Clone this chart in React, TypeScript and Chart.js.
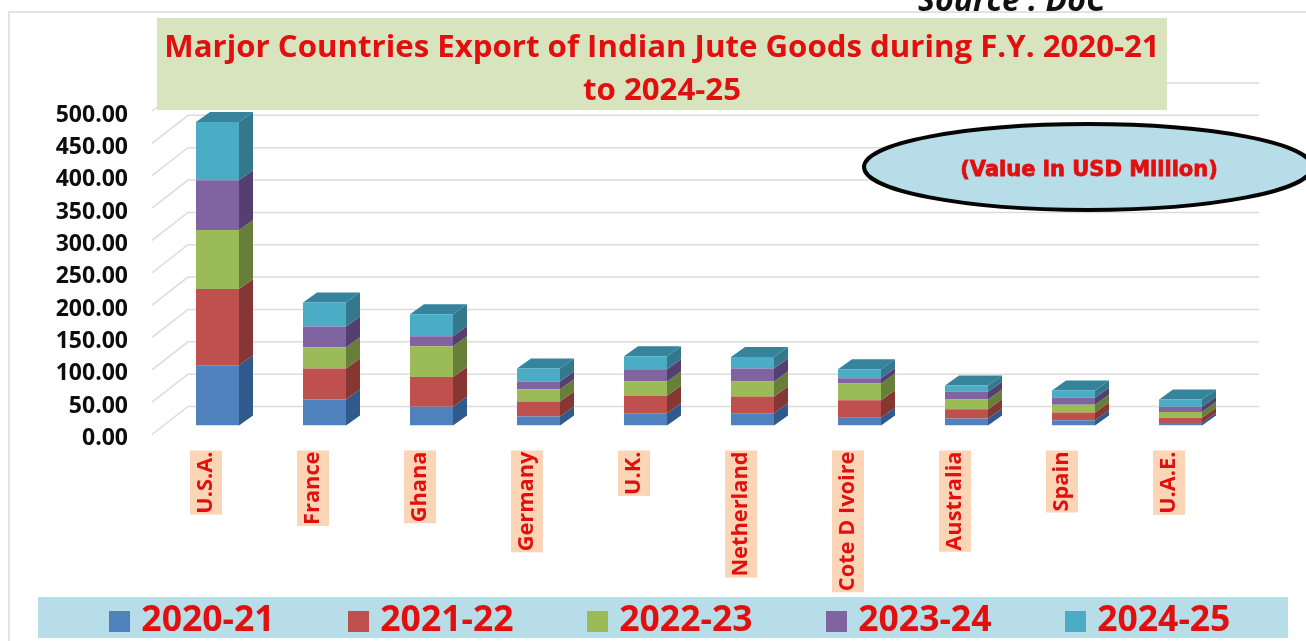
import React, { useEffect, useRef } from "react";
import { Chart, registerables } from "chart.js";

Chart.register(...registerables);

const countries = ["U.S.A.", "France", "Ghana", "Germany", "U.K.", "Netherland", "Cote D Ivoire", "Australia", "Spain", "U.A.E."];
const fy2021 = [93, 40, 29, 14, 19, 19, 12, 11, 8, 4];
const fy2122 = [118, 48, 46, 23, 27, 26, 27, 14, 12, 8];
const fy2223 = [91, 33, 47.5, 19, 22, 23, 26, 15, 12, 9];
const fy2324 = [77, 32, 15.5, 12, 19, 20, 8, 12, 11, 8];
const fy2425 = [90, 37, 34, 20, 20, 18, 14, 10, 11, 11];
const seriesNames = ["2020-21", "2021-22", "2022-23", "2023-24", "2024-25"];
const seriesValues = [fy2021, fy2122, fy2223, fy2324, fy2425];
const frontColors = ["#4f81bd", "#c0504d", "#9bbb59", "#8064a2", "#4bacc6"];
const sideColors = ["#30598c", "#863633", "#677f39", "#553f70", "#34788c"];
const topColor = "#35849c";
const titleLines = ["Marjor Countries Export of Indian Jute Goods during F.Y. 2020-21", "to 2024-25"];
const unitNote = "(Value in USD Million)";
const sourceNote = "Source : DoC";

const RED = "#e20f0f";
const FONT = "'Open Sans', 'Noto Sans', sans-serif";

const depthX = 14;
const depthY = 10;

const scenePlugin = {
  id: "scene",
  beforeDraw(chart: any) {
    const { ctx } = chart;
    const y = chart.scales.y;
    const xFront = 152, xBack = 188, xEnd = 1259;
    ctx.save();
    ctx.fillStyle = "#fff";
    ctx.fillRect(0, 0, chart.width, chart.height);
    // frame
    ctx.strokeStyle = "#e3e3e6";
    ctx.lineWidth = 2;
    ctx.beginPath();
    ctx.moveTo(9, chart.height);
    ctx.lineTo(9, 12);
    ctx.lineTo(chart.width, 12);
    ctx.stroke();
    // source note, cropped by the top of the page
    ctx.fillStyle = "#111";
    ctx.font = `italic bold 32px ${FONT}`;
    ctx.textAlign = "left";
    ctx.textBaseline = "alphabetic";
    ctx.fillText(sourceNote, 918, 11);
    // gridlines on back wall and floor edge
    ctx.strokeStyle = "#dcdcdc";
    ctx.lineWidth = 1.5;
    for (const t of y.ticks) {
      const p = y.getPixelForValue(t.value);
      ctx.beginPath();
      ctx.moveTo(xFront, p + 9);
      ctx.lineTo(xBack, p - 19);
      ctx.lineTo(xEnd, p - 19);
      ctx.stroke();
    }
    // title and legend panels
    ctx.fillStyle = "#d7e4bd";
    ctx.fillRect(157, 18, 1010, 92);
    ctx.fillStyle = "#b7dde8";
    ctx.fillRect(38, 597, 1250, 41);
    ctx.restore();
  },
  beforeDatasetsDraw(chart: any) {
    const { ctx } = chart;
    const last = chart.data.datasets.length - 1;
    ctx.save();
    chart.data.datasets.forEach((_: any, di: number) => {
      chart.getDatasetMeta(di).data.forEach((bar: any) => {
        const right = bar.x + bar.width / 2;
        const left = bar.x - bar.width / 2;
        ctx.fillStyle = sideColors[di];
        ctx.beginPath();
        ctx.moveTo(right, bar.y);
        ctx.lineTo(right + depthX, bar.y - depthY);
        ctx.lineTo(right + depthX, bar.base - depthY);
        ctx.lineTo(right, bar.base);
        ctx.closePath();
        ctx.fill();
        if (di === last) {
          ctx.fillStyle = topColor;
          ctx.beginPath();
          ctx.moveTo(left, bar.y);
          ctx.lineTo(left + depthX, bar.y - depthY);
          ctx.lineTo(right + depthX, bar.y - depthY);
          ctx.lineTo(right, bar.y);
          ctx.closePath();
          ctx.fill();
        }
      });
    });
    ctx.restore();
  },
  afterLayout(chart: any) {
    chart.legend.left += 11;
    chart.legend.right += 11;
    // rotated labels run past the axis box, down to the legend panel
    chart.scales.x.bottom = 600;
  },
  afterDraw(chart: any) {
    const { ctx } = chart;
    ctx.save();
    ctx.beginPath();
    ctx.ellipse(1088, 167, 224, 43, 0, 0, Math.PI * 2);
    ctx.fillStyle = "#b7dde8";
    ctx.fill();
    ctx.strokeStyle = "#050505";
    ctx.lineWidth = 4;
    ctx.stroke();
    ctx.fillStyle = RED;
    ctx.strokeStyle = RED;
    ctx.lineWidth = 0.8;
    ctx.font = `bold 21px 'DejaVu Sans', sans-serif`;
    ctx.textAlign = "center";
    ctx.textBaseline = "middle";
    ctx.fillText(unitNote, 1089, 171);
    ctx.strokeText(unitNote, 1089, 171);
    ctx.restore();
  },
};

function legendSwatch(color: string) {
  const c = document.createElement("canvas");
  c.width = 21;
  c.height = 21;
  const g = c.getContext("2d") as CanvasRenderingContext2D;
  g.fillStyle = color;
  g.fillRect(0, 0, 21, 21);
  return c;
}

export default function App() {
  const ref = useRef<HTMLCanvasElement>(null);
  useEffect(() => {
    const swatches = frontColors.map(legendSwatch);
    const chart = new Chart(ref.current as HTMLCanvasElement, {
      type: "bar",
      plugins: [scenePlugin],
      data: {
        labels: countries,
        datasets: seriesNames.map((name, i) => ({
          label: name,
          data: seriesValues[i],
          backgroundColor: frontColors[i],
          borderWidth: 0,
          categoryPercentage: 1,
          barPercentage: 43 / 107,
        })),
      },
      options: {
        animation: false,
        responsive: false,
        layout: { padding: { left: 18, right: 0, top: 26.5, bottom: -8 } },
        plugins: {
          tooltip: { enabled: false },
          title: {
            display: true,
            text: titleLines,
            color: RED,
            font: { family: FONT, size: 31.2, weight: "bold", lineHeight: 43 / 31.2 },
            padding: { top: 0, bottom: -10.5 },
          },
          legend: {
            position: "bottom",
            labels: {
              color: RED,
              usePointStyle: true,
              boxWidth: 8,
              boxHeight: 21,
              padding: 80,
              font: { family: FONT, size: 35.5, weight: "bold", lineHeight: 1.2 },
              generateLabels: (c: any) =>
                (Chart.defaults.plugins.legend.labels as any)
                  .generateLabels(c)
                  .map((it: any, i: number) => ({ ...it, pointStyle: swatches[i] })),
            },
          },
        },
        scales: {
          x: {
            stacked: true,
            grid: { display: false },
            border: { display: false },
            afterFit(s: any) {
              s.height = 98;
              s.paddingLeft = 0;
              s.paddingRight = 0;
            },
            ticks: {
              autoSkip: false,
              minRotation: 90,
              maxRotation: 90,
              labelOffset: -27.5,
              padding: 18,
              color: RED,
              font: { family: FONT, size: 21.8, weight: "bold", lineHeight: 32 / 21.8 },
              showLabelBackdrop: true,
              backdropColor: "#fbd5b5",
              backdropPadding: { top: 0, bottom: 0, left: 1, right: 1 },
            },
          },
          y: {
            stacked: true,
            min: 0,
            max: 500,
            grid: { display: false, drawTicks: false },
            border: { display: false },
            afterFit(s: any) {
              s.width = 146;
              s.paddingTop = 0;
              s.paddingBottom = 0;
            },
            ticks: {
              stepSize: 50,
              labelOffset: 13,
              padding: 36,
              color: "#0d0d0d",
              font: { family: FONT, size: 23, weight: "bold" },
              callback: (v: any) => Number(v).toFixed(2),
            },
          },
          spacer: {
            position: "right",
            display: true,
            grid: { display: false, drawTicks: false },
            border: { display: false },
            ticks: { display: false },
            afterFit(s: any) {
              s.width = 72;
              s.paddingTop = 0;
              s.paddingBottom = 0;
            },
          },
        },
      } as any,
    });
    return () => chart.destroy();
  }, []);
  return (
    <canvas
      ref={ref}
      width={1306}
      height={641}
      style={{ position: "absolute", left: 0, top: 0, width: 1306, height: 641 }}
    />
  );
}
